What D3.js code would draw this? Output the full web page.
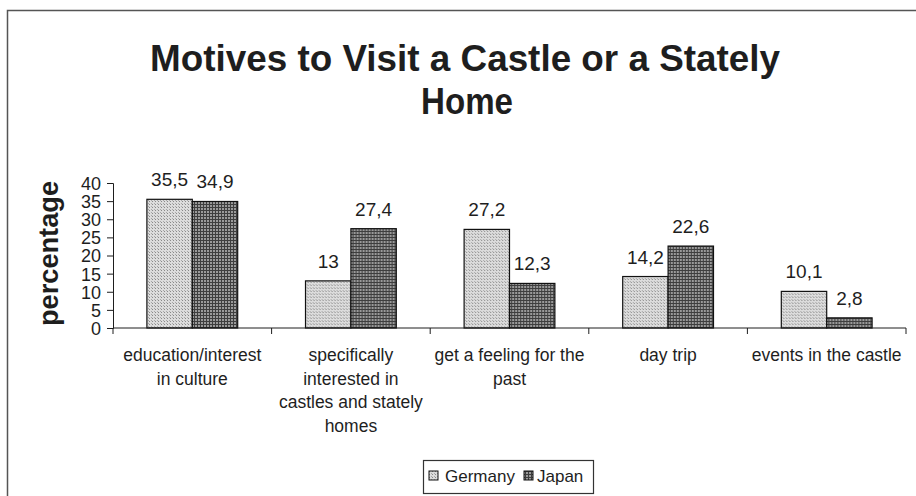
<!DOCTYPE html>
<html>
<head>
<meta charset="utf-8">
<script src="https://cdn.jsdelivr.net/npm/d3@7/dist/d3.min.js"></script>
<style>
  html, body { margin: 0; padding: 0; background: #fff; }
  svg { display: block; font-family: Arial, "Liberation Sans", Helvetica, sans-serif; }
</style>
</head>
<body>
<svg id="chart" width="916" height="496"></svg>
<script>
// Survey results: motives to visit a castle or stately home (percent)
const categories = [
  ["education/interest", "in culture"],
  ["specifically", "interested in", "castles and stately", "homes"],
  ["get a feeling for the", "past"],
  ["day trip"],
  ["events in the castle"]
];
const seriesNames = ["Germany", "Japan"];
const germany = [35.5, 13, 27.2, 14.2, 10.1];
const japan = [34.9, 27.4, 12.3, 22.6, 2.8];
const yTicks = [0, 5, 10, 15, 20, 25, 30, 35, 40];

const svg = d3.select("#chart");
const fmt = v => String(v).replace(".", ",");
const ink = "#1e1e1e";

// fill patterns for the two series
const defs = svg.append("defs");
const pg = defs.append("pattern").attr("id", "patGermany")
  .attr("width", 3).attr("height", 3).attr("patternUnits", "userSpaceOnUse");
pg.append("rect").attr("width", 3).attr("height", 3).attr("fill", "#dcdcdc");
pg.append("rect").attr("x", 0).attr("y", 0).attr("width", 1).attr("height", 1).attr("fill", "#8a8a8a");
pg.append("rect").attr("x", 2).attr("y", 2).attr("width", 1).attr("height", 1).attr("fill", "#a8a8a8");

const pj = defs.append("pattern").attr("id", "patJapan")
  .attr("width", 3).attr("height", 3).attr("patternUnits", "userSpaceOnUse");
pj.append("rect").attr("width", 3).attr("height", 3).attr("fill", "#9a9a9a");
pj.append("rect").attr("x", 0).attr("y", 0).attr("width", 3).attr("height", 1).attr("fill", "#3e3e3e");
pj.append("rect").attr("x", 0).attr("y", 0).attr("width", 1).attr("height", 3).attr("fill", "#3e3e3e");

const fills = ["url(#patGermany)", "url(#patJapan)"];

// outer frame
svg.append("path")
  .attr("d", "M7.5,496 V10.5 H916")
  .attr("fill", "none").attr("stroke", "#555").attr("stroke-width", 1.5);

// title (narrow bold face)
const title = svg.append("text")
  .attr("text-anchor", "middle")
  .attr("font-weight", "bold").attr("font-size", 36).attr("fill", ink);
title.append("tspan").attr("x", 465).attr("y", 71)
  .attr("textLength", 630).attr("lengthAdjust", "spacingAndGlyphs")
  .text("Motives to Visit a Castle or a Stately");
title.append("tspan").attr("x", 467).attr("y", 114)
  .attr("textLength", 92).attr("lengthAdjust", "spacingAndGlyphs")
  .text("Home");

// scales
const plot = { left: 113, right: 906, top: 183, bottom: 328 };
const x0 = d3.scaleBand().domain(d3.range(categories.length))
  .range([plot.left, plot.right]).paddingInner(0).paddingOuter(0);
const x1 = d3.scaleBand().domain(seriesNames)
  .range([0, x0.bandwidth()]).paddingInner(0).paddingOuter(0.747);
const y = d3.scaleLinear().domain([0, 40]).range([plot.bottom, plot.top]);

// y axis
const yAxis = svg.append("g")
  .attr("transform", `translate(${plot.left},0)`)
  .call(d3.axisLeft(y).tickValues(yTicks).tickSize(6).tickPadding(6).tickFormat(d3.format("d")));
yAxis.select(".domain").attr("stroke", ink);
yAxis.selectAll(".tick line").attr("stroke", ink);
yAxis.selectAll(".tick text").attr("font-size", 18).attr("fill", ink)
  .attr("font-family", "Arial, 'Liberation Sans', sans-serif").attr("dy", "0.36em");

// y axis title
svg.append("text")
  .attr("transform", `translate(58,${(plot.top + plot.bottom) / 2 - 2}) rotate(-90)`)
  .attr("text-anchor", "middle")
  .attr("font-weight", "bold").attr("font-size", 27).attr("fill", ink)
  .attr("textLength", 145).attr("lengthAdjust", "spacingAndGlyphs")
  .text("percentage");

// bars
const rows = categories.map((c, i) => ({ i, values: [germany[i], japan[i]] }));
const groups = svg.append("g").selectAll("g").data(rows).join("g")
  .attr("transform", d => `translate(${x0(d.i)},0)`);

groups.selectAll("rect").data(d => d.values.map((v, k) => ({ v, k })))
  .join("rect")
  .attr("x", d => x1(seriesNames[d.k]))
  .attr("y", d => y(d.v))
  .attr("width", x1.bandwidth())
  .attr("height", d => y(0) - y(d.v))
  .attr("fill", d => fills[d.k])
  .attr("stroke", "#111").attr("stroke-width", 1.2);

groups.selectAll("text.val").data(d => d.values.map((v, k) => ({ v, k })))
  .join("text").attr("class", "val")
  .attr("x", d => x1(seriesNames[d.k]) + x1.bandwidth() / 2)
  .attr("y", d => y(d.v) - 13)
  .attr("text-anchor", "middle")
  .attr("font-size", 19).attr("fill", ink)
  .text(d => fmt(d.v));

// x axis with ticks at category boundaries
const xAxis = svg.append("g");
xAxis.append("line")
  .attr("x1", plot.left).attr("x2", plot.right)
  .attr("y1", plot.bottom).attr("y2", plot.bottom)
  .attr("stroke", ink);
xAxis.selectAll("line.tick")
  .data(d3.range(categories.length + 1))
  .join("line").attr("class", "tick")
  .attr("x1", i => plot.left + i * x0.step()).attr("x2", i => plot.left + i * x0.step())
  .attr("y1", plot.bottom).attr("y2", plot.bottom + 6)
  .attr("stroke", ink);

// category labels
const catLabels = svg.append("g").selectAll("text").data(categories).join("text")
  .attr("text-anchor", "middle")
  .attr("font-size", 17.5).attr("fill", ink);
catLabels.each(function (lines, i) {
  const t = d3.select(this);
  lines.forEach((ln, j) => {
    t.append("tspan")
      .attr("x", x0(i) + x0.bandwidth() / 2)
      .attr("y", 361 + j * 23.5)
      .text(ln);
  });
});

// legend
const legend = svg.append("g");
legend.append("rect")
  .attr("x", 423.5).attr("y", 460.5).attr("width", 170).attr("height", 33)
  .attr("fill", "#fff").attr("stroke", "#333").attr("stroke-width", 1.2);
const legendItems = [
  { name: seriesNames[0], sx: 429, tx: 445 },
  { name: seriesNames[1], sx: 524, tx: 537 }
];
legendItems.forEach((d, k) => {
  legend.append("rect")
    .attr("x", d.sx).attr("y", 471).attr("width", 9).attr("height", 9)
    .attr("fill", fills[k]).attr("stroke", "#111").attr("stroke-width", 1);
  legend.append("text")
    .attr("x", d.tx).attr("y", 482)
    .attr("font-size", 17).attr("fill", ink)
    .text(d.name);
});
</script>
</body>
</html>
